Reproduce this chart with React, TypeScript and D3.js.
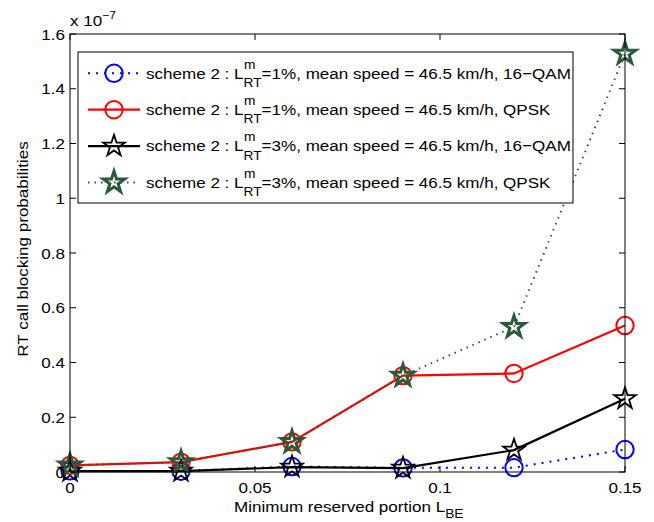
import React, { useEffect, useRef } from "react";
import * as d3 from "d3";

const xValues = [0, 0.03, 0.06, 0.09, 0.12, 0.15];
const blue16QAM = [0.004, 0.003, 0.02, 0.015, 0.016, 0.082];
const redQPSK = [0.024, 0.036, 0.11, 0.352, 0.36, 0.535];
const black16QAM = [0.003, 0.003, 0.018, 0.014, 0.08, 0.268];
const greenQPSK = [0.024, 0.036, 0.11, 0.352, 0.53, 1.528];
const xTicks = [0, 0.05, 0.1, 0.15];
const xTickLabels = ["0", "0.05", "0.1", "0.15"];
const yTicks = [0, 0.2, 0.4, 0.6, 0.8, 1, 1.2, 1.4, 1.6];
const yTickLabels = ["0", "0.2", "0.4", "0.6", "0.8", "1", "1.2", "1.4", "1.6"];
const legendPct = ["1%", "1%", "3%", "3%"];
const legendMod = ["16\u2212QAM", "QPSK", "16\u2212QAM", "QPSK"];

const W = 654;
const H = 522;
const M = { left: 70, right: 29, top: 34, bottom: 50 };
const FONT = "'Liberation Sans', Arial, Helvetica, sans-serif";
const FS = 15.5;
const SX = 1.1;

function starPath(R: number) {
  const r = R * 0.382;
  const pts: [number, number][] = [];
  for (let i = 0; i < 10; i++) {
    const a = -Math.PI / 2 + (i * Math.PI) / 5;
    const rad = i % 2 === 0 ? R : r;
    pts.push([rad * Math.cos(a), rad * Math.sin(a)]);
  }
  return "M" + pts.map((p) => p[0].toFixed(2) + "," + p[1].toFixed(2)).join("L") + "Z";
}

export default function App() {
  const ref = useRef<SVGSVGElement | null>(null);

  useEffect(() => {
    const svg = d3.select(ref.current);
    svg.selectAll("*").remove();

    const x = d3.scaleLinear().domain([0, 0.15]).range([M.left, W - M.right]);
    const y = d3.scaleLinear().domain([0, 1.6]).range([H - M.bottom, M.top]);

    svg.append("rect").attr("x", 0).attr("y", 0).attr("width", W).attr("height", H).attr("fill", "white");

    const series = [
      { data: blue16QAM, color: "#0000ff", dash: "2,6", width: 2, marker: "circle" },
      { data: redQPSK, color: "#ff0000", dash: null, width: 2.2, marker: "circle" },
      { data: black16QAM, color: "#000000", dash: null, width: 2.2, marker: "star" },
      { data: greenQPSK, color: "#2b5a3b", dash: "1.5,5", width: 2, marker: "star" },
    ];

    const line = d3
      .line<number>()
      .x((_, i) => x(xValues[i]))
      .y((d) => y(d));

    const drawMarker = (g: any, s: any, cx: number, cy: number) => {
      if (s.marker === "circle") {
        g.append("circle")
          .attr("cx", cx)
          .attr("cy", cy)
          .attr("r", 8.7)
          .attr("fill", "none")
          .attr("stroke", s.color)
          .attr("stroke-width", 2);
      } else {
        g.append("path")
          .attr("d", starPath(11.3))
          .attr("transform", `translate(${cx},${cy})`)
          .attr("fill", "none")
          .attr("stroke", s.color)
          .attr("stroke-width", s.color === "#000000" ? 1.8 : 3)
          .attr("stroke-linejoin", "miter");
      }
    };

    const plot = svg.append("g");
    series.forEach((s) => {
      plot
        .append("path")
        .datum(s.data)
        .attr("d", line)
        .attr("fill", "none")
        .attr("stroke", s.color)
        .attr("stroke-width", s.width)
        .attr("stroke-dasharray", s.dash);
      s.data.forEach((v, i) => drawMarker(plot, s, x(xValues[i]), y(v)));
    });

    // axes box
    const x0 = M.left, x1 = W - M.right, y0 = M.top, y1 = H - M.bottom;
    svg.append("rect")
      .attr("x", x0).attr("y", y0).attr("width", x1 - x0).attr("height", y1 - y0)
      .attr("fill", "none").attr("stroke", "#000").attr("stroke-width", 1);

    const tl = 6;
    const ax = svg.append("g").attr("font-family", FONT).attr("font-size", FS).attr("fill", "#000");
    const stext = (g: any, tx: number, ty: number, anchor: string) =>
      g.append("text")
        .attr("transform", `translate(${tx},${ty}) scale(${SX},1)`)
        .attr("text-anchor", anchor);

    xTicks.forEach((t, i) => {
      const px = x(t);
      ax.append("line").attr("x1", px).attr("x2", px).attr("y1", y1).attr("y2", y1 - tl).attr("stroke", "#000");
      ax.append("line").attr("x1", px).attr("x2", px).attr("y1", y0).attr("y2", y0 + tl).attr("stroke", "#000");
      stext(ax, px, y1 + 21, "middle").text(xTickLabels[i]);
    });
    yTicks.forEach((t, i) => {
      const py = y(t);
      ax.append("line").attr("x1", x0).attr("x2", x0 + tl).attr("y1", py).attr("y2", py).attr("stroke", "#000");
      ax.append("line").attr("x1", x1).attr("x2", x1 - tl).attr("y1", py).attr("y2", py).attr("stroke", "#000");
      stext(ax, x0 - 5, py + 5.5, "end").text(yTickLabels[i]);
    });

    // exponent
    const ex = stext(ax, M.left, 26, "start");
    ex.append("tspan").text("x 10");
    ex.append("tspan").attr("dy", -7).attr("font-size", 11).text("\u22127");

    // axis labels
    const xl = stext(ax, 234, 512, "start");
    xl.append("tspan").text("Minimum reserved portion L");
    xl.append("tspan").attr("dy", 6).attr("font-size", 12.5).text("BE");

    ax.append("text")
      .attr("transform", `translate(${28},${249}) rotate(-90) scale(${SX},1)`)
      .attr("text-anchor", "middle")
      .text("RT call blocking probabilities");

    // legend
    const lg = svg.append("g").attr("font-family", FONT).attr("font-size", FS);
    lg.append("rect")
      .attr("x", 78).attr("y", 52).attr("width", 495).attr("height", 151)
      .attr("fill", "white").attr("stroke", "#000").attr("stroke-width", 1);
    const rows = [73.3, 109.7, 146.1, 182.5];
    series.forEach((s, i) => {
      const ry = rows[i];
      lg.append("line")
        .attr("x1", 88).attr("x2", 140).attr("y1", ry).attr("y2", ry)
        .attr("stroke", s.color).attr("stroke-width", s.width)
        .attr("stroke-dasharray", s.dash);
      drawMarker(lg, s, 114, ry);
      const tx = 146;
      const ty = ry + 5.2;
      const t1 = stext(lg, tx, ty, "start").text("scheme 2 : L");
      const w1 = (t1.node() as SVGTextElement).getComputedTextLength() * SX;
      const sx = tx + w1;
      stext(lg, sx + 0.5, ty - 10, "start").attr("font-size", 12.5).text("m");
      const rt = stext(lg, sx, ty + 8.5, "start").attr("font-size", 12.5).text("RT");
      const w2 = (rt.node() as SVGTextElement).getComputedTextLength() * SX;
      stext(lg, sx + w2, ty, "start").text(`=${legendPct[i]}, mean speed = 46.5 km/h, ${legendMod[i]}`);
    });
  }, []);

  return (
    <svg
      ref={ref}
      width={W}
      height={H}
      style={{ display: "block", position: "absolute", left: 0, top: 0 }}
    />
  );
}
